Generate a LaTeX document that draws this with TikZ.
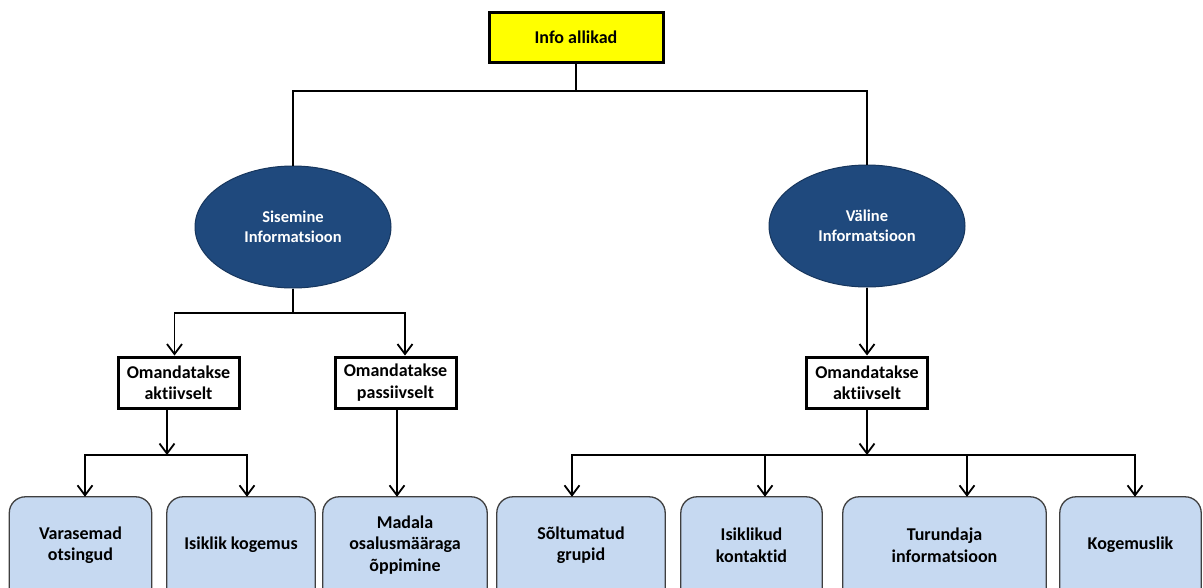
\documentclass[tikz,border=0pt]{standalone}
\usepackage{fontspec}
\setmainfont{Carlito}[Ligatures=NoCommon]
\usetikzlibrary{arrows.meta,shapes.geometric,backgrounds}

\definecolor{topyellow}{HTML}{FFFF00}
\definecolor{ovalblue}{HTML}{1F497D}
\definecolor{ovaledge}{HTML}{17365D}
\definecolor{leafblue}{HTML}{C6D9F1}
\definecolor{leafedge}{HTML}{3F3F3F}

\tikzset{
  every node/.style={font=\bfseries\fontsize{18}{21.5}\selectfont, align=center},
  rootbox/.style={draw=black, line width=3pt, fill=topyellow, minimum width=174, minimum height=50, inner sep=0pt},
  oval/.style={ellipse, draw=ovaledge, line width=1pt, fill=ovalblue, text=white,
    minimum width=196, minimum height=122, inner sep=0pt,
    font=\bfseries\fontsize{16.5}{19.5}\selectfont},
  modebox/.style={draw=black, line width=3pt, fill=white, minimum width=121, minimum height=51, inner sep=0pt},
  leaf/.style={minimum height=96, inner sep=0pt},
  leafshape/.style={draw=leafedge, line width=1.3pt, fill=leafblue, rounded corners=16},
  conn/.style={draw=black, line width=1.6pt},
  arr/.style={conn, -{Straight Barb[length=10pt,width=15pt,line width=1.8pt]}}
}

\begin{document}
\begin{tikzpicture}[x=1pt, y=-1pt]
  \useasboundingbox (0,0) rectangle (1203,587);
  \clip (0,0) rectangle (1203,587);

  % root
  \node[rootbox] (info) at (576,37) {Info allikad};

  % information kinds
  \node[oval] (sis) at (293,227) {Sisemine\\Informatsioon};
  \node[oval] (val) at (867,226) {Väline\\Informatsioon};

  % acquisition modes
  \node[modebox] (aL) at (178.5,382.5) {Omandatakse\\aktiivselt};
  \node[modebox] (pA) at (395.5,382.5) {Omandatakse\\passiivselt};
  \node[modebox] (aR) at (867,382.5) {Omandatakse\\aktiivselt};

  % leaves
  \node[leaf, minimum width=142] (b1) at (80.5,545) {Varasemad\\otsingud};
  \node[leaf, minimum width=148] (b2) at (241,545) {Isiklik kogemus};
  \node[leaf, minimum width=164] (b3) at (405,545) {Madala\\osalusmääraga\\õppimine};
  \node[leaf, minimum width=168] (b4) at (581,545) {Sõltumatud\\grupid};
  \node[leaf, minimum width=141] (b5) at (751.5,545) {Isiklikud\\kontaktid};
  \node[leaf, minimum width=203] (b6) at (944.5,545) {Turundaja\\informatsioon};
  \node[leaf, minimum width=141] (b7) at (1130.5,545) {Kogemuslik};

  \begin{pgfonlayer}{background}
    \foreach \b in {b1,b2,b3,b4,b5,b6,b7}
      \draw[leafshape] ([yshift=-40]\b.south west) rectangle (\b.north east);
  \end{pgfonlayer}

  % bus points
  \coordinate (tb) at (576,91);
  \coordinate (lb) at (293,313);
  \coordinate (lbb) at (167,455);
  \coordinate (rbb) at (867,455);

  % root to the two kinds
  \draw[conn] (info.south) -- (tb) -| (sis.north);
  \draw[conn] (tb) -| (val.north);

  % internal information
  \draw[conn] (sis.south) -- (lb);
  \draw[arr] (lb) -| ([xshift=-4]aL.north);
  \draw[arr] (lb) -| ([xshift=9.5]pA.north);
  \draw[arr] ([xshift=-11.5]aL.south) -- (lbb);
  \draw[arr] (lbb) -| ([xshift=4.5]b1.north);
  \draw[arr] (lbb) -| ([xshift=6]b2.north);
  \draw[arr] ([xshift=1.5]pA.south) -- ([xshift=1.5]pA.south |- b3.north);

  % external information
  \draw[arr] (val.south) -- (val.south |- aR.north);
  \draw[arr] (aR.south) -- (rbb);
  \draw[arr] (rbb) -| ([xshift=-9]b4.north);
  \draw[arr] (rbb) -| ([xshift=13.5]b5.north);
  \draw[arr] (rbb) -| ([xshift=22.5]b6.north);
  \draw[arr] (rbb) -| ([xshift=4.5]b7.north);
\end{tikzpicture}
\end{document}
